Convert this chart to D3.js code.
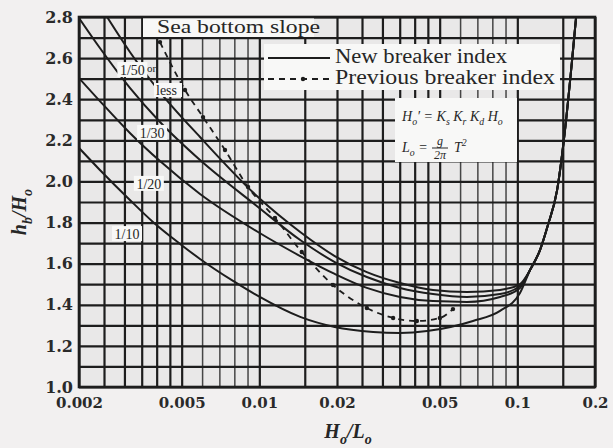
<!DOCTYPE html>
<html>
<head>
<meta charset="utf-8">
<script src="https://cdn.jsdelivr.net/npm/d3@7"></script>
<style>
  html, body { margin: 0; padding: 0; background: #f2f0f0; }
  svg { display: block; }
</style>
</head>
<body>
<div id="chart"></div>
<script>
(function () {
  'use strict';

  // ── Breaker index chart: hb/Ho against wave steepness Ho/Lo (log axis) ──
  // Values.

  var X_GRID = [0.002, 0.0025, 0.003, 0.0035, 0.004, 0.0045, 0.005, 0.006, 0.007, 0.008, 0.009,
                0.01, 0.015, 0.02, 0.025, 0.03, 0.035, 0.04, 0.045, 0.05, 0.06, 0.07, 0.08, 0.09,
                0.1, 0.15, 0.2];
  var X_FINE = [0.006, 0.007, 0.008, 0.009, 0.06, 0.07, 0.08, 0.09];
  var Y_GRID = [1.0, 1.1, 1.2, 1.3, 1.4, 1.5, 1.6, 1.7, 1.8, 1.9, 2.0, 2.1, 2.2, 2.3, 2.4, 2.5, 2.6, 2.7, 2.8];
  var X_TICKS = [0.002, 0.005, 0.01, 0.02, 0.05, 0.1, 0.2];
  var X_TICK_LABELS = ['0.002', '0.005', '0.01', '0.02', '0.05', '0.1', '0.2'];
  var Y_TICKS = [1.0, 1.2, 1.4, 1.6, 1.8, 2.0, 2.2, 2.4, 2.6, 2.8];

  // common steep branch every slope runs into near the steepness limit
  var STEEP_X = [0.112, 0.1224, 0.1314, 0.1426, 0.153, 0.163, 0.169];
  var STEEP_Y = [1.569, 1.666, 1.788, 1.958, 2.25, 2.59, 2.80];

  // new breaker index, one per sea bottom slope
  var S50_X = [0.00257, 0.00315, 0.00412, 0.00589, 0.00988, 0.0144, 0.0196, 0.0261, 0.0351, 0.0471, 0.0638, 0.0857, 0.1024];
  var S50_Y = [2.80, 2.630, 2.435, 2.216, 1.924, 1.754, 1.637, 1.559, 1.506, 1.472, 1.462, 1.472, 1.501];

  var S30_X = [0.002, 0.00241, 0.00315, 0.00412, 0.00589, 0.00988, 0.0144, 0.0196, 0.0261, 0.0351, 0.0471, 0.0638, 0.0857, 0.1024];
  var S30_Y = [2.795, 2.649, 2.455, 2.289, 2.104, 1.876, 1.715, 1.608, 1.535, 1.482, 1.452, 1.438, 1.452, 1.491];

  var S20_X = [0.002, 0.00241, 0.00315, 0.00412, 0.00589, 0.00988, 0.0144, 0.0196, 0.0261, 0.0351, 0.0471, 0.0638, 0.0857, 0.1024];
  var S20_Y = [2.503, 2.391, 2.236, 2.099, 1.939, 1.754, 1.637, 1.550, 1.482, 1.438, 1.418, 1.414, 1.438, 1.482];

  var S10_X = [0.002, 0.00241, 0.00315, 0.00387, 0.00493, 0.00589, 0.00791, 0.00988, 0.0144, 0.0196, 0.0276, 0.0351, 0.0447, 0.0673, 0.0857, 0.1024];
  var S10_Y = [2.163, 2.056, 1.910, 1.803, 1.696, 1.623, 1.516, 1.443, 1.341, 1.292, 1.268, 1.263, 1.272, 1.321, 1.370, 1.457];

  // previous breaker index (dashed)
  var PREV_X = [0.00412, 0.00515, 0.00605, 0.00736, 0.00904, 0.0115, 0.0146, 0.0193, 0.0261, 0.0330, 0.0408, 0.0501, 0.0563];
  var PREV_Y = [2.678, 2.445, 2.313, 2.153, 1.973, 1.822, 1.657, 1.496, 1.384, 1.336, 1.321, 1.336, 1.379];

  // slope labels: text and where they sit (data coords)
  var SLOPE_LABELS = ['1/50', '1/30', '1/20', '1/10'];
  var SLOPE_LABEL_X = [0.00322, 0.00384, 0.00373, 0.00307];
  var SLOPE_LABEL_Y = [2.542, 2.236, 1.988, 1.744];

  var W = 613, H = 448;
  var P = { left: 79, right: 595, top: 17, bottom: 387 };
  var INK = '#1d1d1d';
  var TEXT = '#262626';
  var PAPER = '#f8f8f7';
  var SERIF = '"Liberation Serif", "Times New Roman", serif';

  var x = d3.scaleLog().domain([0.002, 0.2]).range([P.left, P.right]);
  var y = d3.scaleLinear().domain([1.0, 2.8]).range([P.bottom, P.top]);

  var svg = d3.select('#chart').append('svg')
    .attr('width', W)
    .attr('height', H)
    .style('font-family', SERIF);

  svg.append('rect')
    .attr('x', P.left).attr('y', P.top)
    .attr('width', P.right - P.left).attr('height', P.bottom - P.top)
    .attr('fill', '#e9e8e8');

  // grid lines drawn as axes with full-length ticks
  var gx = svg.append('g')
    .attr('transform', 'translate(0,' + P.bottom + ')')
    .call(d3.axisBottom(x).tickValues(X_GRID).tickSize(-(P.bottom - P.top)).tickFormat(''));
  gx.select('.domain').remove();
  gx.selectAll('.tick line')
    .attr('stroke', INK)
    .attr('stroke-width', function (d) { return X_FINE.indexOf(d) >= 0 ? 1.5 : 2.2; })
    .attr('stroke-opacity', function (d) { return X_FINE.indexOf(d) >= 0 ? 0.8 : 1; });

  var gy = svg.append('g')
    .attr('transform', 'translate(' + P.left + ',0)')
    .call(d3.axisLeft(y).tickValues(Y_GRID).tickSize(-(P.right - P.left)).tickFormat(''));
  gy.select('.domain').remove();
  gy.selectAll('.tick line').attr('stroke', INK).attr('stroke-width', 2.2);

  // tick labels
  var ax = svg.append('g')
    .attr('transform', 'translate(0,' + P.bottom + ')')
    .call(d3.axisBottom(x).tickValues(X_TICKS).tickSize(0).tickPadding(10)
      .tickFormat(function (d, i) { return X_TICK_LABELS[i]; }));
  ax.select('.domain').remove();
  ax.selectAll('text')
    .attr('font-family', '"DejaVu Serif", serif')
    .attr('font-size', 15).attr('font-weight', 'bold').attr('fill', '#2a2a2a');

  var ay = svg.append('g')
    .attr('transform', 'translate(' + (P.left - 4) + ',0)')
    .call(d3.axisLeft(y).tickValues(Y_TICKS).tickSize(0).tickPadding(2).tickFormat(d3.format('.1f')));
  ay.select('.domain').remove();
  ay.selectAll('text')
    .attr('font-family', '"DejaVu Serif", serif')
    .attr('font-size', 16).attr('font-weight', 'bold').attr('fill', '#2a2a2a');

  // white boxes that mask the grid behind annotations
  svg.append('rect').attr('x', 143).attr('y', 18).attr('width', 171).attr('height', 19).attr('fill', PAPER);
  svg.append('rect').attr('x', 264).attr('y', 44).attr('width', 296).attr('height', 46).attr('fill', PAPER);
  svg.append('rect').attr('x', 395).attr('y', 98).attr('width', 122).attr('height', 64).attr('fill', PAPER);

  svg.append('clipPath').attr('id', 'plotclip')
    .append('rect')
    .attr('x', P.left).attr('y', P.top)
    .attr('width', P.right - P.left).attr('height', P.bottom - P.top);

  function zip(xs, ys) {
    return xs.map(function (v, i) { return [v, ys[i]]; });
  }
  var steep = zip(STEEP_X, STEEP_Y);
  var line = d3.line()
    .x(function (d) { return x(d[0]); })
    .y(function (d) { return y(d[1]); })
    .curve(d3.curveMonotoneX);

  var curves = [
    zip(S50_X, S50_Y).concat(steep),
    zip(S30_X, S30_Y).concat(steep),
    zip(S20_X, S20_Y).concat(steep),
    zip(S10_X, S10_Y).concat(steep)
  ];

  var plot = svg.append('g').attr('clip-path', 'url(#plotclip)');

  // small masks behind slope labels so the grid breaks around them
  SLOPE_LABELS.forEach(function (t, i) {
    var cx = x(SLOPE_LABEL_X[i]), cy = y(SLOPE_LABEL_Y[i]);
    svg.append('rect')
      .attr('x', cx - 15).attr('y', cy - 8).attr('width', 30).attr('height', 15)
      .attr('fill', PAPER);
  });
  svg.append('rect').attr('x', 154).attr('y', 83).attr('width', 28).attr('height', 14).attr('fill', PAPER);

  plot.selectAll('path.curve').data(curves).enter().append('path')
    .attr('class', 'curve')
    .attr('d', line)
    .attr('fill', 'none')
    .attr('stroke', INK)
    .attr('stroke-width', 2);

  var prev = zip(PREV_X, PREV_Y);
  plot.append('path')
    .attr('d', line(prev))
    .attr('fill', 'none')
    .attr('stroke', INK)
    .attr('stroke-width', 1.8)
    .attr('stroke-dasharray', '6,5');
  plot.selectAll('circle.prev').data(prev).enter().append('circle')
    .attr('class', 'prev')
    .attr('cx', function (d) { return x(d[0]); })
    .attr('cy', function (d) { return y(d[1]); })
    .attr('r', 2.2)
    .attr('fill', INK);

  svg.append('rect')
    .attr('x', P.left).attr('y', P.top)
    .attr('width', P.right - P.left).attr('height', P.bottom - P.top)
    .attr('fill', 'none').attr('stroke', INK).attr('stroke-width', 2.6);

  SLOPE_LABELS.forEach(function (t, i) {
    svg.append('text')
      .attr('x', x(SLOPE_LABEL_X[i])).attr('y', y(SLOPE_LABEL_Y[i]) + 5)
      .attr('text-anchor', 'middle')
      .attr('font-size', 14).attr('fill', TEXT)
      .text(t);
  });
  svg.append('text').attr('x', 147).attr('y', 72).attr('font-size', 11).attr('fill', TEXT).text('or');
  svg.append('text').attr('x', 156).attr('y', 95).attr('font-size', 14).attr('fill', TEXT).text('less');

  // header and legend
  svg.append('text').attr('x', 157).attr('y', 33)
    .attr('font-size', 19).attr('fill', TEXT)
    .attr('textLength', 163).attr('lengthAdjust', 'spacingAndGlyphs')
    .text('Sea bottom slope');

  svg.append('line').attr('x1', 268).attr('x2', 330).attr('y1', 58).attr('y2', 58)
    .attr('stroke', INK).attr('stroke-width', 2);
  svg.append('line').attr('x1', 268).attr('x2', 330).attr('y1', 79).attr('y2', 79)
    .attr('stroke', INK).attr('stroke-width', 1.8).attr('stroke-dasharray', '6,5');
  svg.append('circle').attr('cx', 303).attr('cy', 79).attr('r', 2.2).attr('fill', INK);

  svg.append('text').attr('x', 335).attr('y', 63)
    .attr('font-size', 20).attr('fill', TEXT)
    .attr('textLength', 172).attr('lengthAdjust', 'spacingAndGlyphs')
    .text('New breaker index');
  svg.append('text').attr('x', 335).attr('y', 84)
    .attr('font-size', 20).attr('fill', TEXT)
    .attr('textLength', 220).attr('lengthAdjust', 'spacingAndGlyphs')
    .text('Previous breaker index');

  function rich(sel, parts, size) {
    var shift = 0;
    parts.forEach(function (p) {
      var target = p[1] === 'sub' ? size * 0.3 : (p[1] === 'sup' ? -size * 0.4 : 0);
      sel.append('tspan')
        .attr('dy', target - shift)
        .attr('font-size', p[1] ? size * 0.7 : size)
        .text(p[0]);
      shift = target;
    });
    return sel;
  }

  // formula box
  var f1 = svg.append('text').attr('x', 402).attr('y', 121)
    .attr('font-style', 'italic').attr('fill', TEXT);
  rich(f1, [['H', null], ['o', 'sub'], ['\u2032 = K', null], ['s', 'sub'], [' K', null], ['r', 'sub'],
            [' K', null], ['d', 'sub'], [' H', null], ['o', 'sub']], 14);

  var f2 = svg.append('text').attr('x', 402).attr('y', 152)
    .attr('font-style', 'italic').attr('fill', TEXT);
  rich(f2, [['L', null], ['o', 'sub'], [' =', null]], 14);
  svg.append('text').attr('x', 440).attr('y', 145).attr('text-anchor', 'middle')
    .attr('font-style', 'italic').attr('font-size', 12).attr('fill', TEXT).text('g');
  svg.append('line').attr('x1', 432).attr('x2', 448).attr('y1', 148).attr('y2', 148)
    .attr('stroke', TEXT).attr('stroke-width', 1);
  svg.append('text').attr('x', 440).attr('y', 159).attr('text-anchor', 'middle')
    .attr('font-style', 'italic').attr('font-size', 12).attr('fill', TEXT).text('2\u03c0');
  var f3 = svg.append('text').attr('x', 454).attr('y', 152)
    .attr('font-style', 'italic').attr('fill', TEXT);
  rich(f3, [['T', null], ['2', 'sup']], 14);

  // axis titles
  var xt = svg.append('text').attr('x', 348).attr('y', 438)
    .attr('text-anchor', 'middle')
    .attr('font-style', 'italic').attr('font-weight', 'bold').attr('fill', TEXT);
  rich(xt, [['H', null], ['o', 'sub'], ['/L', null], ['o', 'sub']], 20);

  var yt = svg.append('text')
    .attr('transform', 'translate(26,212) rotate(-90)')
    .attr('text-anchor', 'middle')
    .attr('font-style', 'italic').attr('font-weight', 'bold').attr('fill', TEXT);
  rich(yt, [['h', null], ['b', 'sub'], ['/H', null], ['o', 'sub']], 20);
})();
</script>
</body>
</html>
